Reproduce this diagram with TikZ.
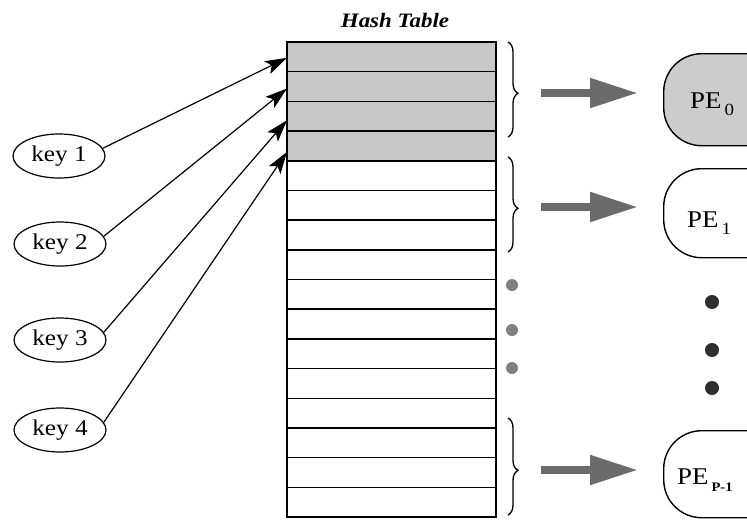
\documentclass[tikz,border=0pt]{standalone}
\usepackage{fontspec}
\setmainfont{Liberation Serif}
\usepackage{graphicx}
\usetikzlibrary{arrows.meta,decorations.pathreplacing,shapes.geometric}

% slightly widened lettering
\newcommand{\wtext}[1]{\scalebox{1.12}[1]{#1}}
\newcommand{\pelabel}[2]{\wtext{PE}\hspace{3pt}\raisebox{-7pt}{\wtext{#2#1}}}

\begin{document}
\begin{tikzpicture}[x=1pt,y=-1pt,
  cell/.style={draw, line width=1.5pt, minimum width=209pt, minimum height=29.69pt,
               inner sep=0pt, outer sep=0pt},
  hot/.style={fill=black!22},
  keynode/.style={draw, ellipse, line width=1.2pt, minimum width=92pt, minimum height=44pt,
                  inner sep=0pt, font=\fontsize{22.5}{26}\selectfont},
  ptr/.style={line width=1.2pt, -{Stealth[length=22pt,width=14pt,inset=5pt]}},
  bracestyle/.style={line width=1.3pt, decorate,
                     decoration={brace, amplitude=10pt, aspect=0.54}},
  fat/.style={line width=8pt, draw=black!58, fill=black!58,
              -{Triangle[length=48pt,width=28pt]}, shorten <=22pt, shorten >=25pt},
  pebox/.style={draw, line width=1.4pt, rounded corners=38pt, minimum width=130pt,
                anchor=north west, inner sep=0pt},
  petext/.style={anchor=base west, inner sep=0pt, font=\fontsize{24}{28}\selectfont},
  gap/.style={circle, fill=black!50, minimum size=12pt, inner sep=0pt},
  bigdot/.style={circle, fill=black!82, minimum size=14pt, inner sep=0pt}
]
\clip (0,0) rectangle (747,520);
\useasboundingbox (0,0) rectangle (747,520);
\fill[white] (0,0) rectangle (747,520);

% title
\node[anchor=base, inner sep=0pt, font=\fontsize{20.5}{24}\selectfont\bfseries\itshape]
  (title) at (395,27) {\wtext{Hash Table}};

% hash table rows
\foreach \i in {0,...,15} {
  \ifnum\i<4
    \node[cell, hot] (r\i) at (391.5, 42+29.6875*\i+14.84) {};
  \else
    \node[cell] (r\i) at (391.5, 42+29.6875*\i+14.84) {};
  \fi
}

% keys
\node[keynode] (k1) at (59,156) {\wtext{key 1}};
\node[keynode] (k2) at (60,244) {\wtext{key 2}};
\node[keynode] (k3) at (60,340) {\wtext{key 3}};
\node[keynode] (k4) at (60,430) {\wtext{key 4}};

\draw[ptr] (k1.10) -- ([yshift=-1pt]r0.west);
\draw[ptr] (k2.10) -- ([yshift=-2pt]r1.west);
\draw[ptr] (k3.10) -- ([yshift=-4pt]r2.west);
\draw[ptr] (k4.10) -- ([yshift=-6pt]r3.west);

% braces grouping rows
\draw[bracestyle] (508,42) -- (508,137);
\draw[bracestyle] (508,157) -- (508,252);
\draw[bracestyle] (508,418) -- (508,515);
\coordinate (b0) at (519,93);
\coordinate (b1) at (519,207);
\coordinate (b2) at (519,470);

% elided rows
\node[gap] (g1) at (512,285) {};
\node[gap] (g2) at (512,330) {};
\node[gap] (g3) at (512,368) {};

% processing elements
\node[pebox, fill=black!20, minimum height=92pt] (pe0) at (663,53) {};
\node[pebox, minimum height=89pt] (pe1) at (663,168) {};
\node[pebox, minimum height=87pt] (pe2) at (663,430) {};

\node[petext] (pe0t) at (690,108) {\pelabel{0}{\fontsize{17}{18}\selectfont}};
\node[petext] (pe1t) at (687,227) {\pelabel{1}{\fontsize{17}{18}\selectfont}};
\node[petext] (pe2t) at (677,484) {\pelabel{P-1}{\fontsize{13}{14}\selectfont\bfseries}};

\node[bigdot] (d1) at (712,302) {};
\node[bigdot] (d2) at (712,350) {};
\node[bigdot] (d3) at (712,388) {};

% dispatch arrows
\draw[fat] (b0) -- (pe0.west |- b0);
\draw[fat] (b1) -- (pe1.west |- b1);
\draw[fat] (b2) -- (pe2.west |- b2);
\end{tikzpicture}
\end{document}
